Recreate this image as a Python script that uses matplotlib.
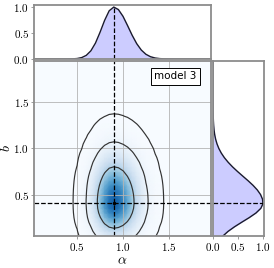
import numpy as np
import matplotlib
matplotlib.use("Agg")
import matplotlib.pyplot as plt
from matplotlib.ticker import FuncFormatter

plt.rcParams['mathtext.fontset'] = 'cm'

# marginal of alpha
alpha = np.round(np.arange(0.0, 2.001, 0.05), 2)
alpha_dens = np.zeros_like(alpha)
alpha_read = {0.45: 0.0025, 0.50: 0.009, 0.55: 0.027, 0.60: 0.070, 0.65: 0.157,
              0.70: 0.306, 0.75: 0.514, 0.80: 0.744, 0.85: 0.929, 0.90: 1.0,
              0.95: 0.952, 1.00: 0.823, 1.05: 0.644, 1.10: 0.458, 1.15: 0.295,
              1.20: 0.172, 1.25: 0.091, 1.30: 0.044, 1.35: 0.019, 1.40: 0.0076,
              1.45: 0.0027, 1.50: 0.0009, 1.55: 0.0003}
for k, v in alpha_read.items():
    alpha_dens[np.isclose(alpha, k)] = v

# marginal of b
b = np.round(np.arange(0.0, 2.001, 0.05), 2)
b_dens = np.zeros_like(b)
b_read = {0.00: 0.122, 0.05: 0.198, 0.10: 0.301, 0.15: 0.430, 0.20: 0.576,
          0.25: 0.726, 0.30: 0.860, 0.35: 0.956, 0.40: 0.999, 0.45: 0.990,
          0.50: 0.951, 0.55: 0.886, 0.60: 0.801, 0.65: 0.702, 0.70: 0.596,
          0.75: 0.491, 0.80: 0.392, 0.85: 0.304, 0.90: 0.228, 0.95: 0.166,
          1.00: 0.117, 1.05: 0.080, 1.10: 0.053, 1.15: 0.034, 1.20: 0.021,
          1.25: 0.013, 1.30: 0.0077, 1.35: 0.0043, 1.40: 0.0024, 1.45: 0.0013,
          1.50: 0.0007, 1.55: 0.0003, 1.60: 0.0001}
for k, v in b_read.items():
    b_dens[np.isclose(b, k)] = v

alpha_best = 0.90
b_best = 0.41
label = "model 3"
# contour heights relative to the peak (outer, middle, inner)
contour_frac = [0.0033, 0.068, 0.39]

dens2d = np.outer(b_dens, alpha_dens)
levels = [f * dens2d.max() for f in contour_frac]

fig = plt.figure(figsize=(2.74, 2.68), dpi=100)
ax = fig.add_axes([0.1241, 0.1194, 0.6460, 0.6530])
axt = fig.add_axes([0.1241, 0.7799, 0.6460, 0.2015])
axr = fig.add_axes([0.7774, 0.1194, 0.1861, 0.6530])

spine_col = '#8c8c8c'
fmt = FuncFormatter(lambda v, p: r'$%.1f$' % v)

ax.pcolormesh(alpha, b, dens2d, cmap='Blues', vmin=0, vmax=1.22 * dens2d.max(),
              shading='gouraud', zorder=0)
ax.contour(alpha, b, dens2d, levels=levels, colors='#333333', linewidths=0.85)
ax.axvline(alpha_best, color='k', ls='--', lw=0.9)
ax.axhline(b_best, color='k', ls='--', lw=0.9)
ax.plot([alpha_best], [b_best], 'k.', ms=3)
ax.set_xlim(0.03, 1.96)
ax.set_ylim(0.05, 1.95)
ax.set_xticks([0.5, 1.0, 1.5])
ax.set_yticks([0.5, 1.0, 1.5])
ax.xaxis.set_major_formatter(fmt)
ax.yaxis.set_major_formatter(fmt)
ax.grid(True, color='#b4b4b4', lw=0.6)
ax.set_xlabel(r'$\alpha$', fontsize=10, labelpad=0)
ax.set_ylabel(r'$b$', fontsize=10, labelpad=0)
ax.text(0.92, 0.94, label, transform=ax.transAxes, ha='right', va='top', fontsize=7.5,
        bbox=dict(boxstyle='square,pad=0.35', fc='white', ec='k', lw=0.7))

axt.fill_between(alpha, 0, alpha_dens, color='#ccccff', lw=0)
axt.plot(alpha, alpha_dens, color='#1a1a2e', lw=1.0)
axt.plot([alpha_best, alpha_best], [0, 1], color='k', ls='--', lw=0.9)
axt.set_xlim(ax.get_xlim())
axt.set_ylim(0, 1.04)
axt.set_xticks([])
axt.set_yticks([0.0, 0.5, 1.0])
axt.yaxis.set_major_formatter(fmt)

axr.fill_betweenx(b, 0, b_dens, color='#ccccff', lw=0)
axr.plot(b_dens, b, color='#1a1a2e', lw=1.0)
axr.plot([0, 1], [b_best, b_best], color='k', ls='--', lw=0.9)
axr.set_ylim(ax.get_ylim())
axr.set_xlim(0, 1.02)
axr.set_yticks([])
axr.set_xticks([0.0, 0.5, 1.0])
axr.xaxis.set_major_formatter(fmt)

for a in (ax, axt, axr):
    for s in a.spines.values():
        s.set_color(spine_col)
        s.set_linewidth(1.3)
    a.tick_params(labelsize=8, length=2.5, width=0.6, color=spine_col, pad=1)

fig.savefig('out.png', dpi=100)
